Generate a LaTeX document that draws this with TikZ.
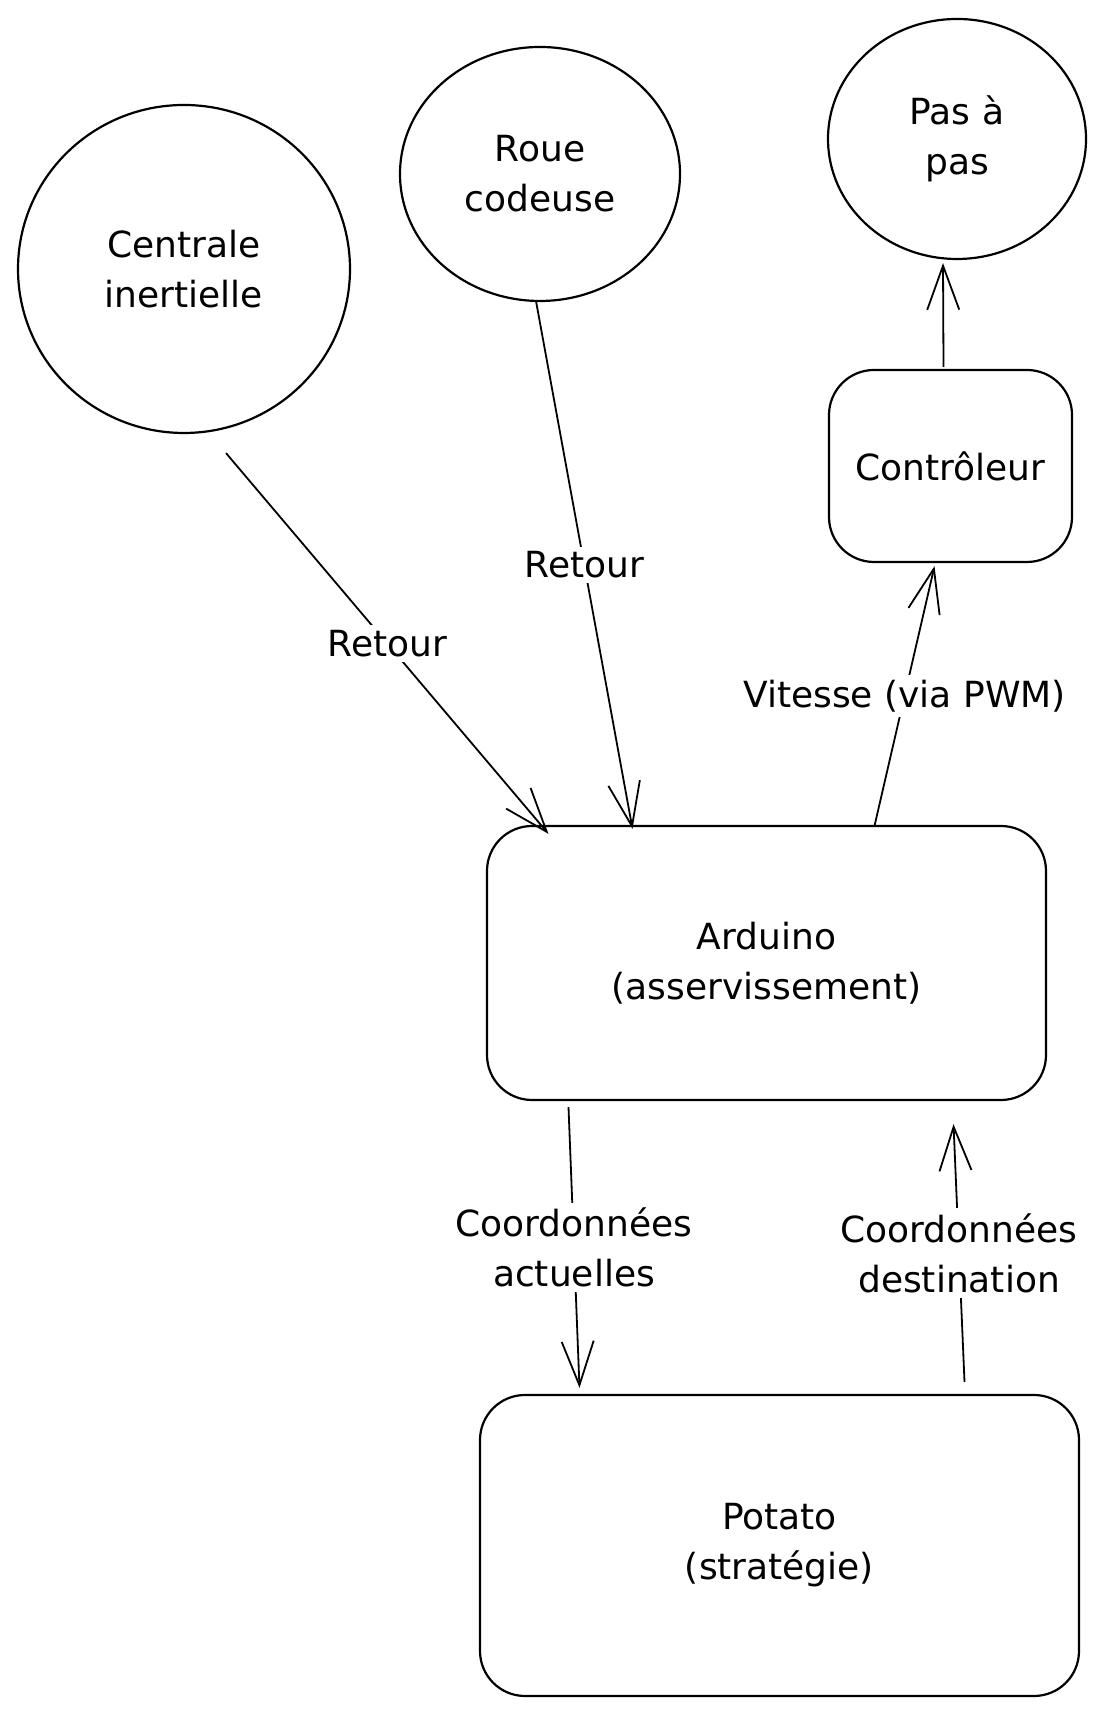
\documentclass[tikz,border=0pt]{standalone}
\usepackage{fontspec}
\setmainfont{DejaVu Sans}
\usetikzlibrary{shapes.geometric,arrows.meta}

\begin{document}
\begin{tikzpicture}[x=1pt,y=1pt,
	bulle/.style={draw,ellipse,line width=2.2pt,inner sep=0pt,align=center,font=\fontsize{36}{50}\selectfont},
	boite/.style={draw,rectangle,rounded corners=45pt,line width=2.2pt,inner sep=0pt,align=center,font=\fontsize{36}{50}\selectfont},
	fleche/.style={-{Straight Barb[length=44pt,width=32pt]},line width=1.8pt},
	etiq/.style={fill=white,inner sep=5pt,align=center,font=\fontsize{36}{50}\selectfont}]
	\fill[white] (0,0) rectangle (1104,1710);
	\useasboundingbox (0,0) rectangle (1104,1710);

	% capteurs et moteur
	\node[bulle,minimum width=332pt,minimum height=328pt] (centrale) at (184,1441) {Centrale\\inertielle};
	\node[bulle,minimum width=280pt,minimum height=254pt] (roue) at (540,1536) {Roue\\codeuse};
	\node[bulle,minimum width=258pt,minimum height=240pt] (pas) at (957,1571) {Pas à\\pas};

	% cartes
	\node[boite,minimum width=243pt,minimum height=192pt] (controleur) at (950.5,1244) {Contrôleur};
	\node[boite,minimum width=559pt,minimum height=274pt] (arduino) at (766.5,747) {Arduino\\(asservissement)};
	\node[boite,minimum width=599pt,minimum height=301pt] (potato) at (779.5,164.5) {Potato\\(stratégie)};

	% liaisons
	\draw[fleche] ([xshift=42pt,yshift=-19pt]centrale.south) -- node[etiq] {Retour} ([xshift=-218pt,yshift=-9pt]arduino.north);
	\draw[fleche] ([xshift=-4pt,yshift=1pt]roue.south) -- node[etiq] {Retour} ([xshift=-134pt,yshift=-4pt]arduino.north);
	\draw[fleche] ([xshift=108pt,yshift=-1pt]arduino.north) -- node[etiq] {Vitesse (via PWM)} ([xshift=-16pt,yshift=-3pt]controleur.south);
	\draw[fleche] ([xshift=-7pt,yshift=2pt]controleur.north) -- ([xshift=-14pt,yshift=-3pt]pas.south);
	\draw[fleche] ([xshift=-198pt,yshift=-6pt]arduino.south) -- node[etiq] {Coordonnées\\actuelles} ([xshift=-200pt,yshift=6pt]potato.north);
	\draw[fleche] ([xshift=185pt,yshift=12pt]potato.north) -- node[etiq] {Coordonnées\\destination} ([xshift=187pt,yshift=-23pt]arduino.south);
\end{tikzpicture}
\end{document}
